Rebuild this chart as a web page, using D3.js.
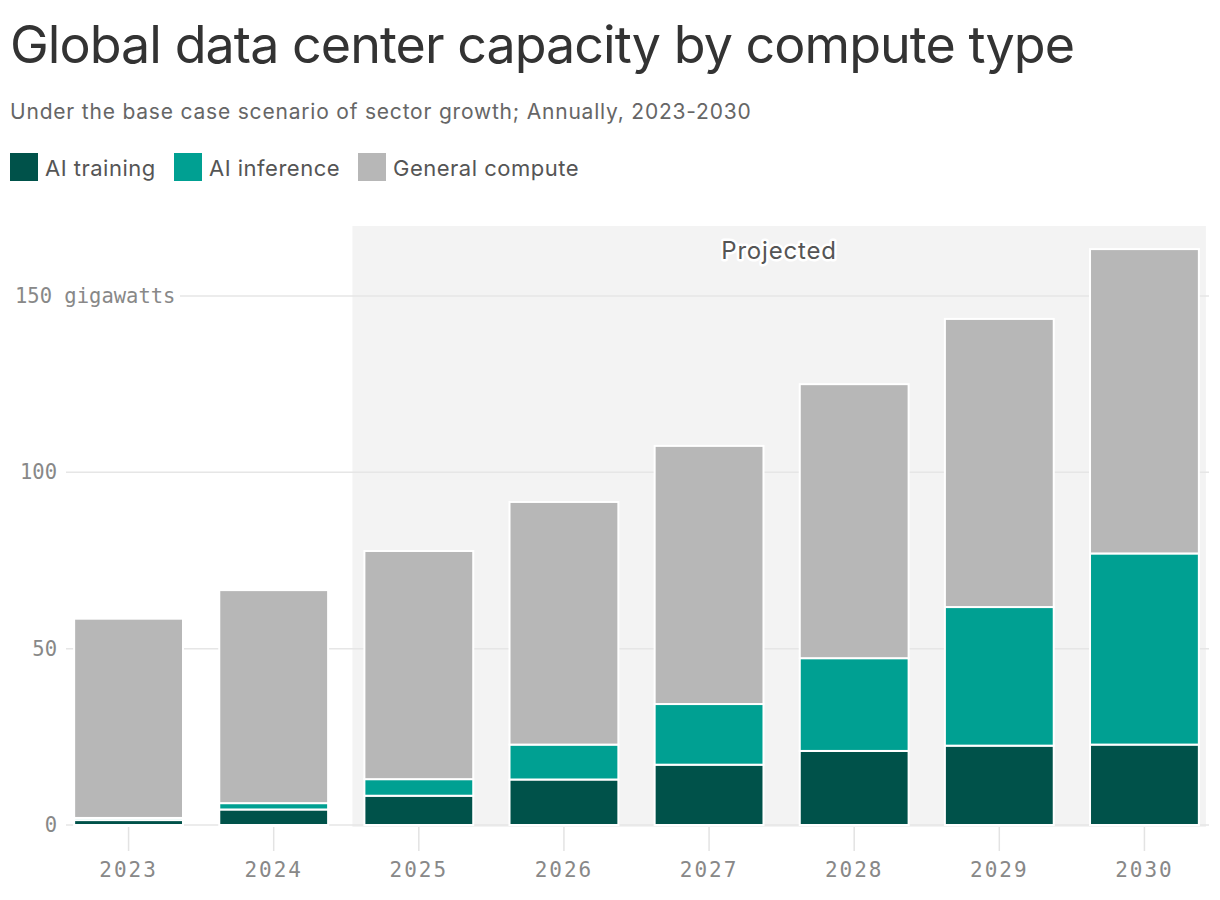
<!DOCTYPE html>
<html><head><meta charset="utf-8">
<script src="https://cdn.jsdelivr.net/npm/d3@7"></script>
<style>body{margin:0;background:#fff}svg{display:block}</style>
</head><body><div id="chart"></div>
<script>
const years = ["2023","2024","2025","2026","2027","2028","2029","2030"];
const aiTraining = [1.4, 4.4, 8.3, 12.9, 17.1, 21.0, 22.5, 22.8];
const aiInference = [0.6, 1.8, 4.7, 9.9, 17.2, 26.3, 39.3, 54.2];
const generalCompute = [56.5, 60.4, 64.7, 68.8, 73.2, 77.7, 81.7, 86.3];
const seriesNames = ["AI training", "AI inference", "General compute"];
const seriesColors = ["#00524a", "#00a092", "#b7b7b7"];
const yTicks = [0, 50, 100, 150];
const projectedFrom = "2025";

const W = 1220, H = 900;
const svg = d3.select("#chart").append("svg").attr("width", W).attr("height", H);

const rows = years.map((y, i) => ({year: y, "AI training": aiTraining[i], "AI inference": aiInference[i], "General compute": generalCompute[i]}));
const stack = d3.stack().keys(seriesNames)(rows);

const x = d3.scaleBand().domain(years).range([56, 1217]).paddingInner(0.25).paddingOuter(0.125);
const y = d3.scaleLinear().domain([0, 150]).range([825, 296]);

const sans = "Inter, 'Noto Sans', sans-serif";
const mono = "'DejaVu Sans Mono', 'Liberation Mono', monospace";

// title
svg.append("text").attr("x", 10).attr("y", 63).text("Global data center capacity by compute type")
  .attr("font-family", sans).attr("font-size", 52).attr("fill", "#333").attr("letter-spacing", -0.95);
svg.append("text").attr("x", 10).attr("y", 119).text("Under the base case scenario of sector growth; Annually, 2023-2030")
  .attr("font-family", sans).attr("font-size", 21).attr("fill", "#666").attr("letter-spacing", 0.8);

// legend
const legendX = [10, 174, 358];
const lg = svg.append("g");
seriesNames.forEach((s, i) => {
  lg.append("rect").attr("x", legendX[i]).attr("y", 153).attr("width", 28).attr("height", 28).attr("fill", seriesColors[i]);
  lg.append("text").attr("x", legendX[i] + 35).attr("y", 175.5).text(s)
    .attr("font-family", sans).attr("font-size", 22).attr("fill", "#555").attr("letter-spacing", 0.5);
});

// projected shading
const px0 = x(projectedFrom) - 12;
const px1 = x(years[years.length - 1]) + x.bandwidth() + 7;
svg.append("rect").attr("x", px0).attr("y", 226).attr("width", px1 - px0).attr("height", y(0) - 226 + 2).attr("fill", "#f3f3f3");

// grid
const grid = svg.append("g");
yTicks.forEach(t => {
  grid.append("line").attr("x1", t === 150 ? 180 : 66).attr("x2", 1209).attr("y1", y(t)).attr("y2", y(t))
    .attr("stroke", "#e6e6e6").attr("stroke-width", 1.5);
  grid.append("text").attr("x", t === 150 ? 15 : 57).attr("y", y(t) + 7).attr("text-anchor", t === 150 ? "start" : "end")
    .text(t === 150 ? "150 gigawatts" : String(t))
    .attr("font-family", mono).attr("font-size", 20.5).attr("fill", "#888");
});

// x axis
const xAxis = d3.axisBottom(x).tickSize(24).tickPadding(10);
const xg = svg.append("g").attr("transform", `translate(0,${y(0) + 2})`).call(xAxis);
xg.select(".domain").remove();
xg.selectAll(".tick line").attr("stroke", "#e3e3e3").attr("stroke-width", 1.5);
xg.selectAll(".tick text").attr("font-family", mono)
  .attr("font-size", 21).attr("fill", "#888").attr("letter-spacing", 2).attr("dy", "0.75em");

// bars
stack.forEach((layer, i) => {
  svg.append("g").selectAll("rect").data(layer).join("rect")
    .attr("x", d => x(d.data.year))
    .attr("width", x.bandwidth())
    .attr("y", d => y(d[1]))
    .attr("height", d => y(d[0]) - y(d[1]))
    .attr("fill", seriesColors[i])
    .attr("stroke", "#fff").attr("stroke-width", 2);
});

// projected label
svg.append("text").attr("x", 779).attr("y", 259).attr("text-anchor", "middle").text("Projected")
  .attr("font-family", sans).attr("font-size", 24).attr("fill", "#555").attr("letter-spacing", 0.8)
  .attr("stroke", "#fff").attr("stroke-width", 5).attr("paint-order", "stroke").attr("stroke-linejoin", "round");
</script></body></html>
